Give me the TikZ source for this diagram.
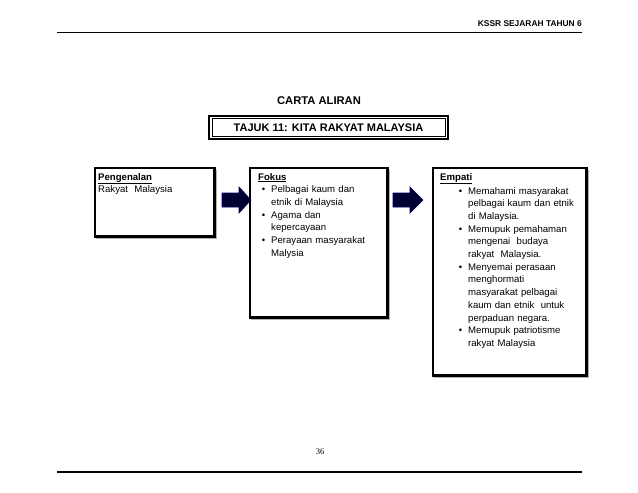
\documentclass[tikz,border=0pt]{standalone}
\usepackage{fontspec}
\setmainfont{Liberation Sans}
\newenvironment{blist}{\begin{list}{\textbullet}{\leftmargin=13pt\labelwidth=8pt\labelsep=6pt\itemsep=0pt\parsep=0pt\topsep=0pt\partopsep=0pt}\fontsize{9.6}{12.7}\selectfont\lineskiplimit=-20pt}{\end{list}}
\newcommand{\nl}{\strut\\\strut}
\tikzset{
 box/.style={draw, line width=2.2pt, fill=white},
 shadow/.style={draw=gray!60, line width=1pt},
 txt/.style={anchor=north west, align=left, inner sep=0pt, font=\fontsize{9.6}{12.7}\selectfont},
 barrow/.style={fill=black!80!blue, draw=black!60!blue, line width=0.6pt}
}
\begin{document}
\begin{tikzpicture}[x=1pt,y=-1pt]
\useasboundingbox (0,0) rectangle (638,493);
% header
\node[anchor=south east, inner sep=0pt, font=\bfseries\fontsize{8.4}{10}\selectfont] (hdr) at (582,27) {KSSR SEJARAH TAHUN 6};
\coordinate (hl) at (57,32); \coordinate (hr) at (582,32);
\draw[line width=0.9pt] (hl) -- (hr);
% title
\node[font=\bfseries\fontsize{11.2}{13}\selectfont] (carta) at (319,101) {CARTA ALIRAN};
\draw[line width=1.4pt] (209,116) rectangle (448,139);
\draw[line width=0.5pt] (212,118.5) rectangle (445,136.5);
\node[font=\bfseries\fontsize{11}{13}\selectfont] (tajuk) at (328.5,127.5) {TAJUK 11: KITA RAKYAT MALAYSIA};
% boxes
\draw[shadow] (96,170) rectangle (216,238);
\draw[box] (95,168) rectangle (214.5,236.5);
\draw[shadow] (251,170) rectangle (389,319);
\draw[box] (250,168) rectangle (387.5,317.5);
\draw[shadow] (434,170) rectangle (588,377);
\draw[box] (433,168) rectangle (586.5,375.5);
% texts
\node[txt, text width=115pt] (p) at (98,173) {\textbf{\underline{Pengenalan}}\\Rakyat\ \ Malaysia};
\node[txt, text width=130pt] (f) at (258,173) {\textbf{\underline{Fokus}}
\begin{blist}
\item \strut Pelbagai kaum dan\nl etnik di Malaysia\strut
\item \strut Agama dan\nl kepercayaan\strut
\item \strut Perayaan masyarakat\nl Malysia\strut
\end{blist}};
\node[txt, text width=150pt] (e) at (440,173) {\textbf{\underline{Empati}}\\[0pt]
\hspace*{15pt}\begin{minipage}[t]{135pt}\begin{blist}
\item \strut Memahami masyarakat\nl pelbagai kaum dan etnik\nl di Malaysia.\strut
\item \strut Memupuk pemahaman\nl mengenai\ \ budaya\nl rakyat\ \ Malaysia.\strut
\item \strut Menyemai perasaan\nl menghormati\nl masyarakat pelbagai\nl kaum dan etnik\ \ untuk\nl perpaduan negara.\strut
\item \strut Memupuk patriotisme\nl rakyat Malaysia\strut
\end{blist}\end{minipage}};
% arrows
\draw[barrow] (222,193) -- (239,193) -- (239,187) -- (251,200) -- (239,213) -- (239,207) -- (222,207) -- cycle;
\draw[barrow] (393,193) -- (410,193) -- (410,187) -- (423,200) -- (410,213) -- (410,207) -- (393,207) -- cycle;
% footer
\node[font=\fontspec{Liberation Serif}\fontsize{8.5}{10}\selectfont] (pg) at (320,452) {36};
\draw[line width=2.8pt] (57,472) -- (582,472);
\end{tikzpicture}
\end{document}
